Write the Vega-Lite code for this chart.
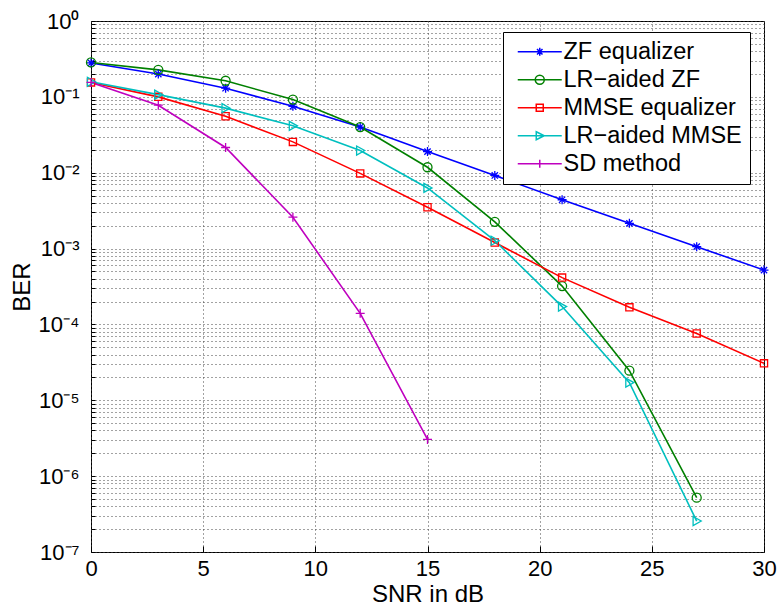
{
  "$schema": "https://vega.github.io/schema/vega-lite/v6.json",
  "autosize": {"type": "none"},
  "padding": {"left": 91, "top": 21, "right": 16, "bottom": 58},
  "width": 673,
  "height": 531,
  "background": "white",
  "config": {
    "font": "Liberation Sans",
    "view": {"stroke": "#000", "strokeWidth": 1},
    "axis": {
      "domain": false,
      "ticks": true,
      "tickColor": "#000",
      "grid": true,
      "gridColor": "#444",
      "gridDash": [1, 3],
      "gridWidth": 1,
      "labelFont": "Liberation Sans",
      "labelFontSize": 22,
      "labelColor": "#000",
      "titleFont": "Liberation Sans",
      "titleFontSize": 24,
      "titleFontWeight": "normal",
      "titleColor": "#000"
    }
  },
  "data": {
    "values": [
      {"series": "ZF equalizer", "snr": 0, "ber": 0.28},
      {"series": "ZF equalizer", "snr": 3, "ber": 0.2},
      {"series": "ZF equalizer", "snr": 6, "ber": 0.13},
      {"series": "ZF equalizer", "snr": 9, "ber": 0.075},
      {"series": "ZF equalizer", "snr": 12, "ber": 0.04},
      {"series": "ZF equalizer", "snr": 15, "ber": 0.019},
      {"series": "ZF equalizer", "snr": 18, "ber": 0.0092},
      {"series": "ZF equalizer", "snr": 21, "ber": 0.0044},
      {"series": "ZF equalizer", "snr": 24, "ber": 0.00215},
      {"series": "ZF equalizer", "snr": 27, "ber": 0.00106},
      {"series": "ZF equalizer", "snr": 30, "ber": 0.00052},
      {"series": "LR−aided ZF", "snr": 0, "ber": 0.284},
      {"series": "LR−aided ZF", "snr": 3, "ber": 0.227},
      {"series": "LR−aided ZF", "snr": 6, "ber": 0.163},
      {"series": "LR−aided ZF", "snr": 9, "ber": 0.092},
      {"series": "LR−aided ZF", "snr": 12, "ber": 0.04},
      {"series": "LR−aided ZF", "snr": 15, "ber": 0.0118},
      {"series": "LR−aided ZF", "snr": 18, "ber": 0.00225},
      {"series": "LR−aided ZF", "snr": 21, "ber": 0.00032},
      {"series": "LR−aided ZF", "snr": 24, "ber": 0.0000246},
      {"series": "LR−aided ZF", "snr": 27, "ber": 0.00000052},
      {"series": "MMSE equalizer", "snr": 0, "ber": 0.155},
      {"series": "MMSE equalizer", "snr": 3, "ber": 0.1},
      {"series": "MMSE equalizer", "snr": 6, "ber": 0.0555},
      {"series": "MMSE equalizer", "snr": 9, "ber": 0.0255},
      {"series": "MMSE equalizer", "snr": 12, "ber": 0.0098},
      {"series": "MMSE equalizer", "snr": 15, "ber": 0.0035},
      {"series": "MMSE equalizer", "snr": 18, "ber": 0.0012},
      {"series": "MMSE equalizer", "snr": 21, "ber": 0.000414},
      {"series": "MMSE equalizer", "snr": 24, "ber": 0.000168},
      {"series": "MMSE equalizer", "snr": 27, "ber": 0.000076},
      {"series": "MMSE equalizer", "snr": 30, "ber": 0.0000307},
      {"series": "LR−aided MMSE", "snr": 0, "ber": 0.158},
      {"series": "LR−aided MMSE", "snr": 3, "ber": 0.107},
      {"series": "LR−aided MMSE", "snr": 6, "ber": 0.071},
      {"series": "LR−aided MMSE", "snr": 9, "ber": 0.0415},
      {"series": "LR−aided MMSE", "snr": 12, "ber": 0.0196},
      {"series": "LR−aided MMSE", "snr": 15, "ber": 0.0063},
      {"series": "LR−aided MMSE", "snr": 18, "ber": 0.00127},
      {"series": "LR−aided MMSE", "snr": 21, "ber": 0.000172},
      {"series": "LR−aided MMSE", "snr": 24, "ber": 0.0000171},
      {"series": "LR−aided MMSE", "snr": 27, "ber": 0.000000256},
      {"series": "SD method", "snr": 0, "ber": 0.155},
      {"series": "SD method", "snr": 3, "ber": 0.0776},
      {"series": "SD method", "snr": 6, "ber": 0.0215},
      {"series": "SD method", "snr": 9, "ber": 0.00259},
      {"series": "SD method", "snr": 12, "ber": 0.00014},
      {"series": "SD method", "snr": 15, "ber": 0.00000305}
    ]
  },
  "encoding": {
    "x": {
      "field": "snr", "type": "quantitative",
      "scale": {"domain": [0, 30], "nice": false},
      "axis": {"values": [0, 5, 10, 15, 20, 25, 30], "title": "SNR in dB", "tickSize": -6, "labelPadding": 12, "titlePadding": 3, "labelFlush": false}
    },
    "y": {
      "field": "ber", "type": "quantitative",
      "scale": {"type": "log", "domain": [1e-7, 1], "nice": false},
      "axis": {
        "title": "BER",
        "tickSize": -4,
        "labelPadding": 16,
        "titlePadding": 4,
        "labelFlush": false,
        "labelOverlap": false,
        "values": [1e-7,2e-7,3e-7,4e-7,5e-7,6e-7,7e-7,8e-7,9e-7,1e-6,2e-6,3e-6,4e-6,5e-6,6e-6,7e-6,8e-6,9e-6,1e-5,2e-5,3e-5,4e-5,5e-5,6e-5,7e-5,8e-5,9e-5,1e-4,2e-4,3e-4,4e-4,5e-4,6e-4,7e-4,8e-4,9e-4,1e-3,2e-3,3e-3,4e-3,5e-3,6e-3,7e-3,8e-3,9e-3,1e-2,2e-2,3e-2,4e-2,5e-2,6e-2,7e-2,8e-2,9e-2,1e-1,2e-1,3e-1,4e-1,5e-1,6e-1,7e-1,8e-1,9e-1,1],
        "labelExpr": "abs(log(datum.value)/LN10 - round(log(datum.value)/LN10)) < 0.001 ? '10' + ['⁰','⁻¹','⁻²','⁻³','⁻⁴','⁻⁵','⁻⁶','⁻⁷'][round(-log(datum.value)/LN10)] : ''"
      }
    },
    "color": {
      "field": "series", "type": "nominal",
      "scale": {
        "domain": ["ZF equalizer", "LR−aided ZF", "MMSE equalizer", "LR−aided MMSE", "SD method"],
        "range": ["#0000FF", "#008000", "#FF0000", "#00BFBF", "#BF00BF"]
      },
      "legend": {
        "title": null,
        "orient": "none",
        "legendX": 412,
        "legendY": 11,
        "fillColor": "white",
        "strokeColor": "#000",
        "padding": 8,
        "labelFont": "Liberation Sans",
        "labelFontSize": 23.5,
        "labelColor": "#000",
        "labelLimit": 400,
        "symbolSize": 100,
        "symbolStrokeWidth": 1.5,
        "symbolFillColor": "transparent",
        "labelOffset": 29,
        "rowPadding": 3,
        "encode": {
          "symbols": {
            "update": {
              "shape": {"signal": "['M-1,0H7.8M2.6,0H4.2M3.4,-0.8V0.8M2.85,-0.55L3.95,0.55M2.85,0.55L3.95,-0.55','M-1,0H7.8M4.3,0A0.9,0.9 0 1 1 2.5,0A0.9,0.9 0 1 1 4.3,0','M-1,0H7.8M2.7,-0.7H4.1V0.7H2.7Z','M-1,0H7.8M2.7,-0.8L4.3,0L2.7,0.8Z','M-1,0H7.8M2.6,0H4.2M3.4,-0.8V0.8'][indexof(['ZF equalizer','LR−aided ZF','MMSE equalizer','LR−aided MMSE','SD method'], datum.value)]"},
              "fill": {"value": "transparent"}
            }
          }
        }
      }
    }
  },
  "layer": [
    {"mark": {"type": "line", "strokeWidth": 1.6}},
    {
      "transform": [{"filter": "datum.series === 'ZF equalizer'"}],
      "mark": {"type": "point", "filled": false, "strokeWidth": 1.3, "size": 81, "opacity": 1, "shape": "M-1,0H1M0,-1V1M-0.7,-0.7L0.7,0.7M-0.7,0.7L0.7,-0.7"}
    },
    {
      "transform": [{"filter": "datum.series === 'LR−aided ZF'"}],
      "mark": {"type": "point", "filled": false, "strokeWidth": 1.3, "size": 81, "opacity": 1, "shape": "circle"}
    },
    {
      "transform": [{"filter": "datum.series === 'MMSE equalizer'"}],
      "mark": {"type": "point", "filled": false, "strokeWidth": 1.3, "size": 81, "opacity": 1, "shape": "M-0.8,-0.8H0.8V0.8H-0.8Z"}
    },
    {
      "transform": [{"filter": "datum.series === 'LR−aided MMSE'"}],
      "mark": {"type": "point", "filled": false, "strokeWidth": 1.3, "size": 81, "opacity": 1, "shape": "M-0.8,-1L1,0L-0.8,1Z"}
    },
    {
      "transform": [{"filter": "datum.series === 'SD method'"}],
      "mark": {"type": "point", "filled": false, "strokeWidth": 1.3, "size": 81, "opacity": 1, "shape": "M-1,0H1M0,-1V1"}
    }
  ]
}
